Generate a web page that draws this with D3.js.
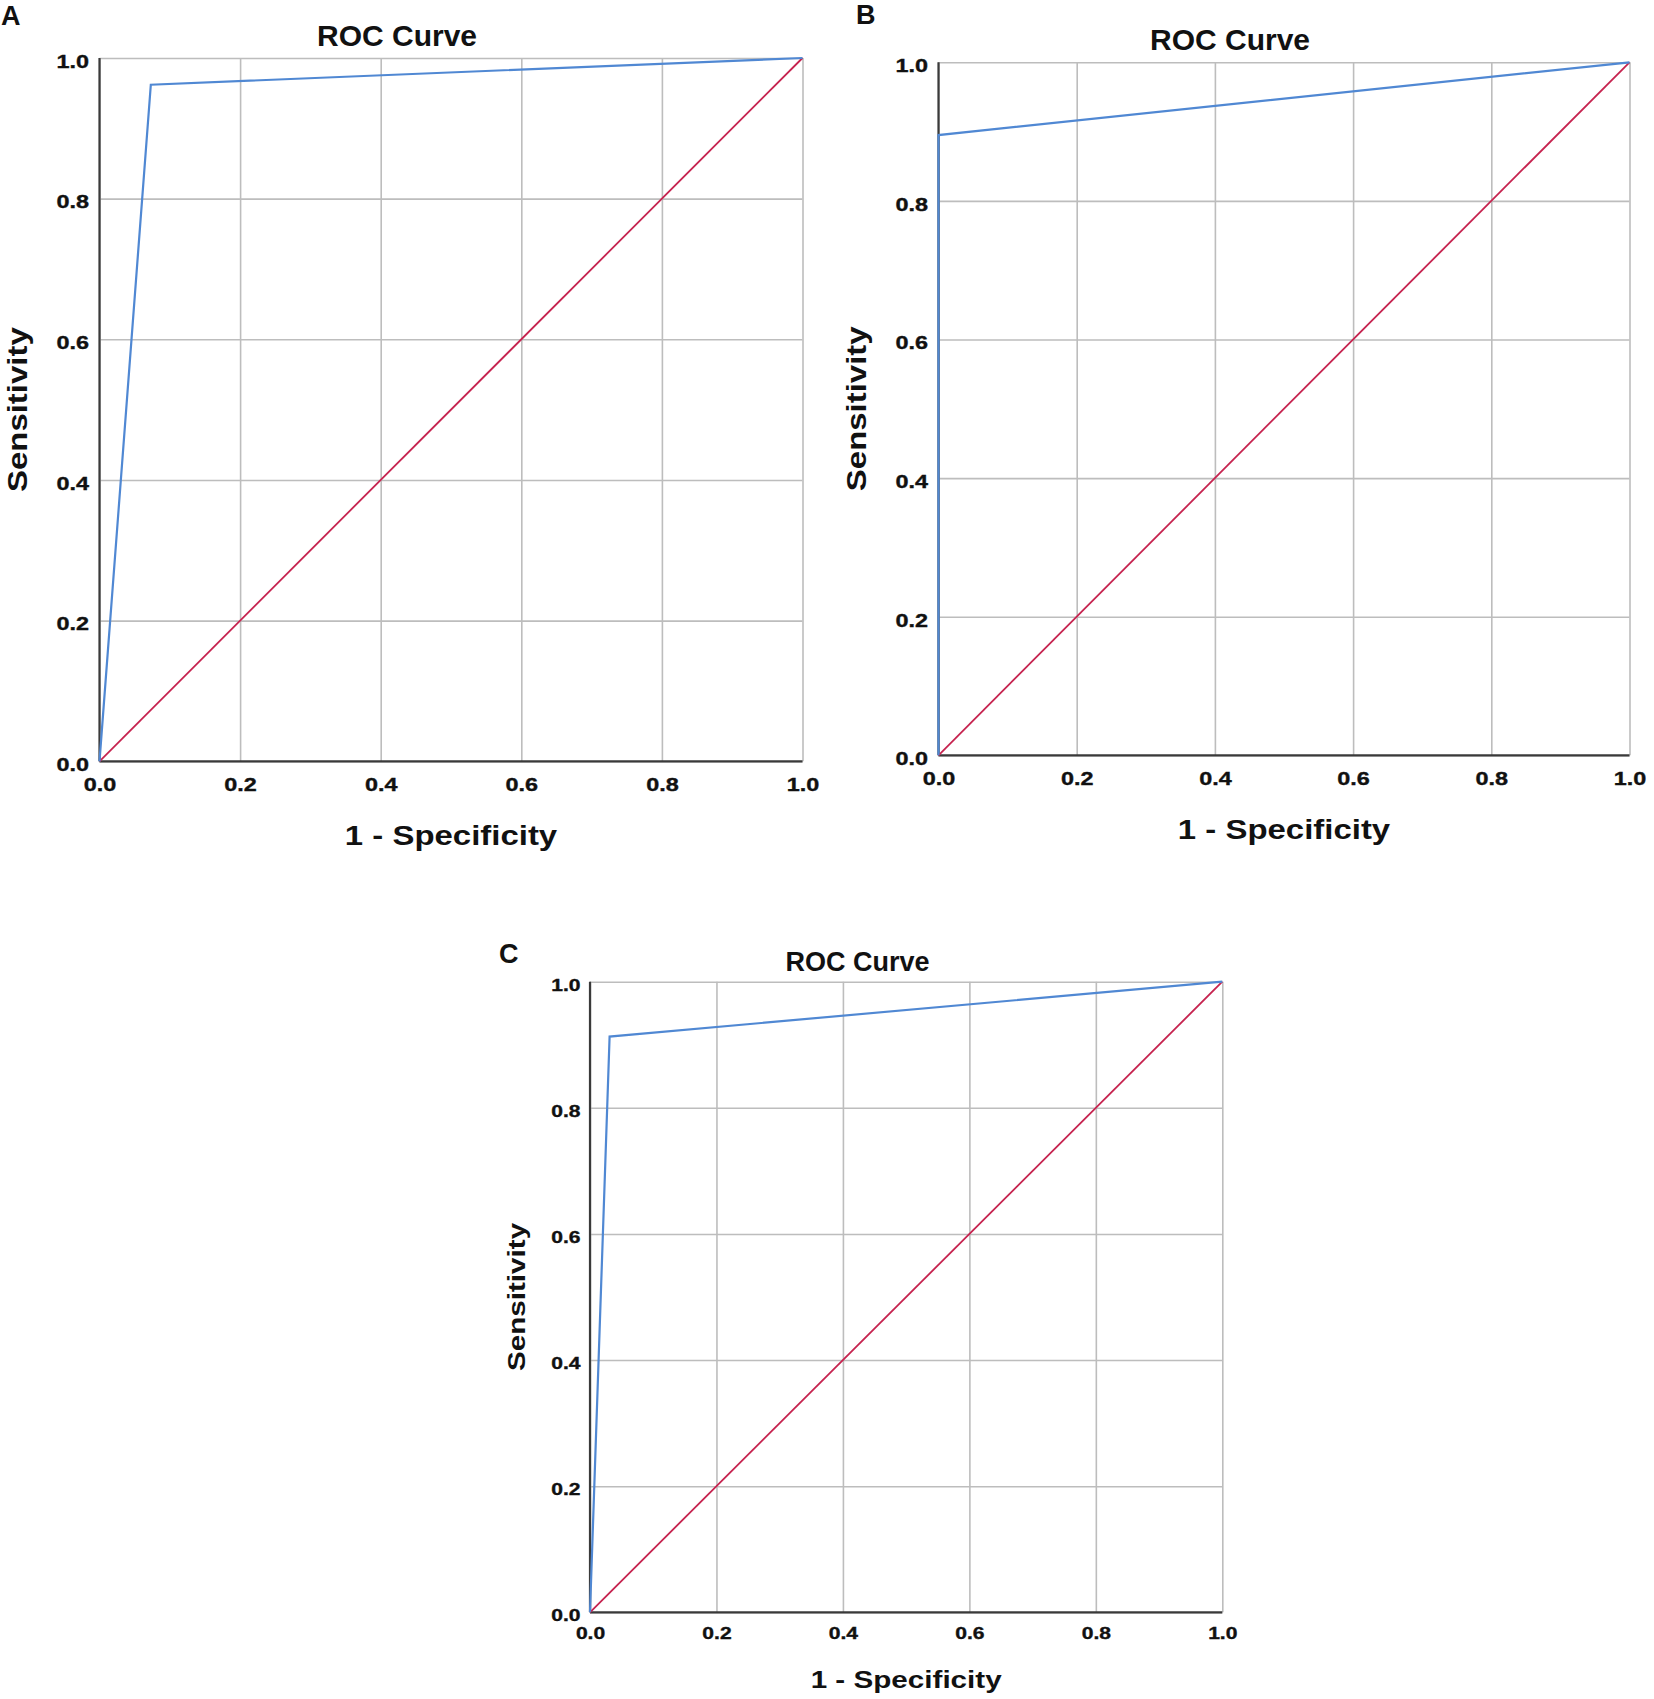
<!DOCTYPE html>
<html>
<head>
<meta charset="utf-8">
<script src="https://cdn.jsdelivr.net/npm/d3@7"></script>
<style>
  html, body { margin: 0; padding: 0; background: #fff; }
  svg { display: block; }
  text { font-family: "Liberation Sans", Arial, Helvetica, sans-serif; font-weight: bold; fill: #111; }
</style>
</head>
<body>
<svg id="chart" width="1654" height="1699"></svg>
<script>
// ---------------- data ----------------
const panelLabels = ["A", "B", "C"];
const chartTitle = "ROC Curve";
const xAxisTitle = "1 - Specificity";
const yAxisTitle = "Sensitivity";
const tickValues = [0.0, 0.2, 0.4, 0.6, 0.8, 1.0];

// ROC curve points (1 - specificity, sensitivity)
const fprA = [0.0, 0.073, 1.0];
const tprA = [0.0, 0.962, 1.0];
const fprB = [0.0, 0.0, 1.0];
const tprB = [0.0, 0.895, 1.0];
const fprC = [0.0, 0.031, 1.0];
const tprC = [0.0, 0.913, 1.0];
// reference (chance) line
const refFpr = [0.0, 1.0];
const refTpr = [0.0, 1.0];

// ---------------- layout ----------------
const panels = [
  { label: panelLabels[0], fpr: fprA, tpr: tprA, left: 99.5, top: 58, w: 703, h: 703.3, k: 1.0,
    labelX: 1, labelY: 25, yTitleOff: 73 },
  { label: panelLabels[1], fpr: fprB, tpr: tprB, left: 938.5, top: 62.3, w: 691, h: 693, k: 1.0,
    labelX: 856, labelY: 24, yTitleOff: 73 },
  { label: panelLabels[2], fpr: fprC, tpr: tprC, left: 590, top: 981.7, w: 632.3, h: 630.6, k: 0.9,
    labelX: 499, labelY: 963, yTitleOff: 72 }
];

const colors = { curve: "#5088d3", ref: "#c6234f", grid: "#bdbdbd", axis: "#3a3a3a" };
const tickSX = 1.3, titleSX = 1.22;

const svg = d3.select("#chart");

panels.forEach(p => {
  const k = p.k;
  const x = d3.scaleLinear().domain([0, 1]).range([0, p.w]);
  const y = d3.scaleLinear().domain([0, 1]).range([p.h, 0]);
  const g = svg.append("g").attr("transform", `translate(${p.left},${p.top})`);

  const styleTick = sel => sel
    .style("font-family", '"Liberation Sans", Arial, sans-serif')
    .style("font-weight", "bold")
    .style("font-size", (18 * k) + "px")
    .attr("fill", "#111")
    .attr("stroke", "#111").attr("stroke-width", 0.35);

  // x grid + tick labels
  const xa = g.append("g").attr("transform", `translate(0,${p.h})`)
    .call(d3.axisBottom(x).tickValues(tickValues).tickSize(-p.h).tickFormat(d3.format(".1f")));
  xa.select(".domain").remove();
  xa.selectAll("line").attr("stroke", colors.grid).attr("stroke-width", 1.6);
  xa.selectAll("text")
    .attr("y", 29.5 * k).attr("dy", null)
    .attr("transform", `scale(${tickSX},1)`)
    .call(styleTick);

  // y grid + tick labels
  const ya = g.append("g")
    .call(d3.axisLeft(y).tickValues(tickValues).tickSize(-p.w).tickFormat(d3.format(".1f")));
  ya.select(".domain").remove();
  ya.selectAll("line").attr("stroke", colors.grid).attr("stroke-width", 1.6);
  ya.selectAll("text")
    .attr("x", -10.5 * k / tickSX).attr("y", 3 * k).attr("dy", "0.35em")
    .attr("transform", `scale(${tickSX},1)`)
    .call(styleTick);

  // axis lines (left + bottom, dark)
  g.append("line").attr("x1", x(0)).attr("x2", x(0)).attr("y1", y(0)).attr("y2", y(1))
    .attr("stroke", colors.axis).attr("stroke-width", 2.2);
  g.append("line").attr("x1", x(0)).attr("x2", x(1)).attr("y1", y(0)).attr("y2", y(0))
    .attr("stroke", colors.axis).attr("stroke-width", 2.2);

  const line = d3.line().x(d => x(d[0])).y(d => y(d[1]));

  // chance line
  g.append("path").datum(refFpr.map((v, i) => [v, refTpr[i]]))
    .attr("d", line).attr("fill", "none")
    .attr("stroke", colors.ref).attr("stroke-width", 1.8);

  // ROC curve
  g.append("path").datum(p.fpr.map((v, i) => [v, p.tpr[i]]))
    .attr("d", line).attr("fill", "none")
    .attr("stroke", colors.curve).attr("stroke-width", 2.2)
    .attr("stroke-linejoin", "miter");

  // title
  g.append("text")
    .attr("x", p.w / 2 - 54 * k).attr("y", -12 * k)
    .attr("text-anchor", "middle")
    .style("font-size", (30 * k) + "px")
    .text(chartTitle);

  // x axis title
  g.append("text")
    .attr("transform", `translate(${p.w / 2},${p.h + 84 * k}) scale(${titleSX},1)`)
    .attr("text-anchor", "middle")
    .style("font-size", (27 * k) + "px")
    .text(xAxisTitle);

  // y axis title
  g.append("text")
    .attr("transform", `translate(${-p.yTitleOff * k},${p.h / 2}) rotate(-90) scale(${titleSX},1)`)
    .attr("text-anchor", "middle")
    .style("font-size", (27 * k) + "px")
    .text(yAxisTitle);

  // panel label
  svg.append("text")
    .attr("x", p.labelX).attr("y", p.labelY)
    .style("font-size", "27px")
    .text(p.label);
});
</script>
</body>
</html>
